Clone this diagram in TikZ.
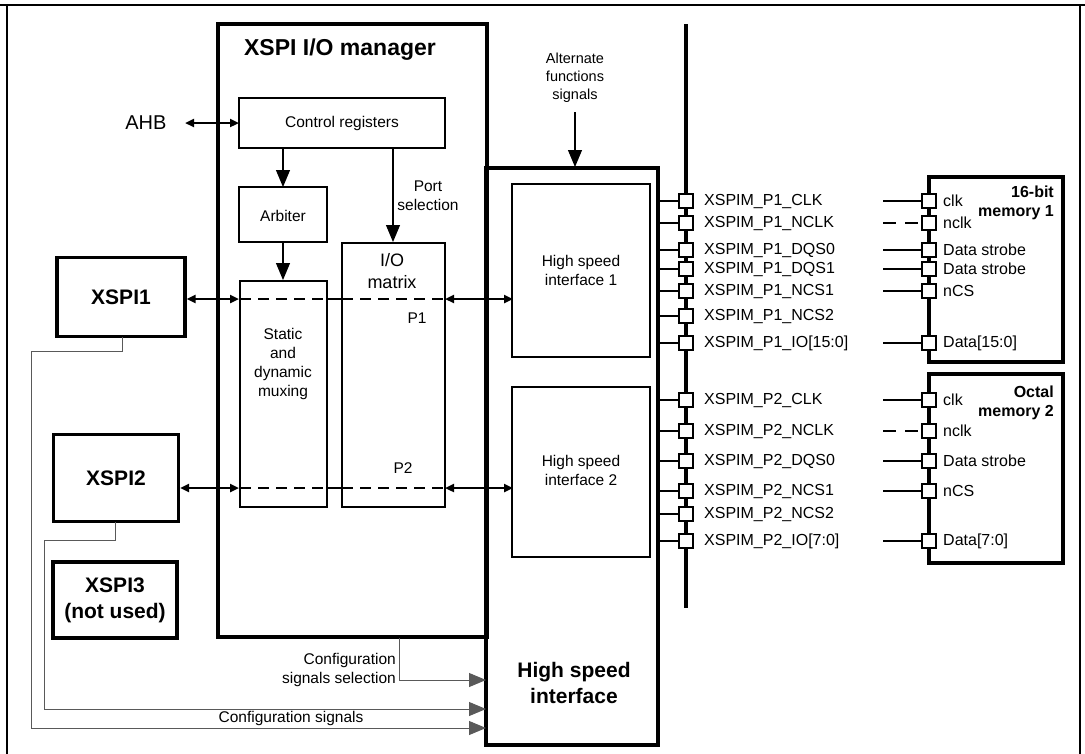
\documentclass[tikz,border=0pt]{standalone}
\usepackage{fontspec}
\setmainfont{Liberation Sans}
\usetikzlibrary{arrows.meta}
\begin{document}
\begin{tikzpicture}[x=1pt,y=-1pt,
  box/.style={draw,line width=1.1pt,inner sep=0},
  tbox/.style={draw,line width=3.2pt,inner sep=0},
  lab/.style={font=\fontsize{15.5}{18}\selectfont,align=center,inner sep=0},
  pinl/.style={font=\fontsize{16}{18}\selectfont,anchor=west,inner sep=0},
  pin/.style={draw,fill=white,line width=1.3pt,minimum size=14pt,inner sep=0},
  tri/.style={-{Triangle[length=17pt,width=14pt]}},
  dtri/.style={{Triangle[length=9pt,width=8pt]}-{Triangle[length=9pt,width=8pt]},line width=2.8pt},
  gl/.style={draw=black!65,line width=1pt},
  dsh/.style={dash pattern=on 11pt off 7pt,line width=1.1pt}]
\useasboundingbox (0,0) rectangle (1085,753);
\draw[line width=1.3pt] (0,5) -- (1085,5);
\draw[line width=1.3pt] (7,5) -- (7,760) (1080,5) -- (1080,760);
% manager
\draw[line width=3.2pt] (218,24) rectangle (487,637);
\node[font=\bfseries\fontsize{23}{25}\selectfont] (mtitle) at (340,50) {XSPI I/O manager};
\draw[box] (239,98) rectangle (445,148);
\node[lab] (cr) at (342,123) {Control registers};
\coordinate (crb) at (283,149);
\node[font=\fontsize{20}{22}\selectfont,anchor=east] (ahb) at (170,123) {AHB};
\coordinate (ahbr) at (185,123); \coordinate (crl) at (239,123);
\draw[dtri] (ahbr) -- (crl);
\draw[box] (239,187) rectangle (327,242);
\node[lab] (arb) at (283,216) {Arbiter};
\coordinate (arbt) at (283,187); \coordinate (arbb) at (283,243);
\draw[tri,line width=1.1pt] (crb) -- (arbt);
\draw[box] (240,281) rectangle (327,507);
\node[lab,font=\fontsize{15.5}{19}\selectfont] (mux) at (283,364) {Static\\and\\dynamic\\muxing};
\coordinate (muxt) at (283,280);
\draw[tri,line width=1.1pt] (arbb) -- (muxt);
\draw[box] (342,243) rectangle (445,507);
\node[lab,font=\fontsize{18}{22}\selectfont] (iom) at (392,271) {I/O\\matrix};
\coordinate (ps1) at (393,149); \coordinate (ps2) at (393,242);
\draw[tri,line width=1.1pt] (ps1) -- (ps2);
\node[lab,font=\fontsize{15.5}{19}\selectfont] (pslab) at (428,196) {Port\\selection};
\node[lab] (p1) at (417,318) {P1};
\node[lab] (p2) at (403,468) {P2};
\draw[dsh] (240,299) -- (327,299) (342,299) -- (445,299);
\draw[line width=1.1pt] (327,299) -- (342,299) (327,488) -- (342,488);
\draw[dsh] (240,488) -- (327,488) (342,488) -- (445,488);
% XSPI blocks
\node[tbox,minimum width=128pt,minimum height=79pt,font=\bfseries\fontsize{21}{23}\selectfont] (x1) at (121,297) {XSPI1};
\node[tbox,minimum width=125pt,minimum height=87pt,font=\bfseries\fontsize{21}{23}\selectfont] (x2) at (116,478) {XSPI2};
\node[tbox,minimum width=124pt,minimum height=76pt,font=\bfseries\fontsize{21}{26}\selectfont,align=center] (x3) at (115,600) {XSPI3\\(not used)};
\coordinate (m1) at (239,299); \coordinate (m2) at (239,488);
\draw[dtri] (x1.east |- m1) -- (m1);
\draw[dtri] (x2.east |- m2) -- (m2);
% HSI
\draw[line width=3.2pt] (486,168) rectangle (658,745);
\node[font=\bfseries\fontsize{21}{26}\selectfont,align=center] (hsi) at (574,683) {High speed\\interface};
\draw[box] (512,184) rectangle (650,357);
\node[lab,font=\fontsize{15.5}{19}\selectfont] (h1) at (581,270) {High speed\\interface 1};
\draw[box] (512,387) rectangle (650,557);
\node[lab,font=\fontsize{15.5}{19}\selectfont] (h2) at (581,470) {High speed\\interface 2};
\coordinate (h1l) at (513,299); \coordinate (h2l) at (513,488);
\coordinate (i1) at (445,299); \coordinate (i2) at (445,488);
\draw[dtri] (i1) -- (h1l);
\draw[dtri] (i2) -- (h2l);
\node[lab,font=\fontsize{14.5}{18}\selectfont] (alt) at (575,78) {Alternate\\functions\\signals};
\coordinate (altb) at (575,112); \coordinate (hsit) at (575,167);
\draw[tri,line width=1.1pt] (altb) -- (hsit);
% bus
\draw[line width=4pt] (686,24) -- (686,608);
\foreach \n/\y/\t in {a/201/XSPIM\_P1\_CLK,b/223/XSPIM\_P1\_NCLK,c/250/XSPIM\_P1\_DQS0,d/269/XSPIM\_P1\_DQS1,e/291/XSPIM\_P1\_NCS1,f/316/XSPIM\_P1\_NCS2,g/343/XSPIM\_P1\_IO[15:0],h/400/XSPIM\_P2\_CLK,i/431/XSPIM\_P2\_NCLK,j/461/XSPIM\_P2\_DQS0,k/491/XSPIM\_P2\_NCS1,l/514/XSPIM\_P2\_NCS2,m/541/XSPIM\_P2\_IO[7:0]}{
  \coordinate (s\n) at (658,\y);
  \node[pin] (p\n) at (686,\y) {};
  \draw[line width=1.3pt] (s\n) -- (p\n);
  \node[pinl] (l\n) at (704,\y) {\t};
}
% memories
\draw[line width=3.2pt] (929,177) rectangle (1063,362);
\draw[line width=3.2pt] (929,374) rectangle (1063,563);
\node[font=\bfseries\fontsize{16}{19}\selectfont,align=right,anchor=north east,inner sep=0] (mt1) at (1054,186) {16-bit\\memory 1};
\node[font=\bfseries\fontsize{16}{19}\selectfont,align=right,anchor=north east,inner sep=0] (mt2) at (1054,386) {Octal\\memory 2};
\foreach \n/\y/\t in {a/201/clk,c/250/Data strobe,d/269/Data strobe,e/291/nCS,g/343/Data[15:0],h/400/clk,j/461/Data strobe,k/491/nCS,m/541/Data[7:0]}{
  \coordinate (q\n) at (883,\y);
  \node[pin] (r\n) at (929,\y) {};
  \draw[line width=1.3pt] (q\n) -- (r\n);
  \node[pinl] (n\n) at (943,\y) {\t};
}
\foreach \n/\y in {b/223,i/431}{
  \coordinate (q\n) at (883,\y);
  \node[pin] (r\n) at (929,\y) {};
  \draw[line width=1.3pt,dash pattern=on 13pt off 9pt] (q\n) -- (r\n);
  \node[pinl] (n\n) at (943,\y) {nclk};
}
% config lines
\coordinate (c1a) at (122,337); \coordinate (c1b) at (122,351); \coordinate (c1c) at (31,351); \coordinate (c1d) at (31,728); \coordinate (c1e) at (486,728);
\coordinate (c2a) at (115,522); \coordinate (c2b) at (115,540); \coordinate (c2c) at (44,540); \coordinate (c2d) at (44,709); \coordinate (c2e) at (486,709);
\coordinate (c3a) at (399,638); \coordinate (c3b) at (399,680); \coordinate (c3e) at (486,680);
\draw[gl,tri] (c1a) -- (c1b) -- (c1c) -- (c1d) -- (c1e);
\draw[gl,tri] (c2a) -- (c2b) -- (c2c) -- (c2d) -- (c2e);
\draw[gl,tri] (c3a) -- (c3b) -- (c3e);
\node[lab,align=right,anchor=east,font=\fontsize{15.5}{19}\selectfont] (cs) at (396,670) {Configuration\\signals selection};
\node[lab] (cfg) at (291,718) {Configuration signals};
\end{tikzpicture}
\end{document}
